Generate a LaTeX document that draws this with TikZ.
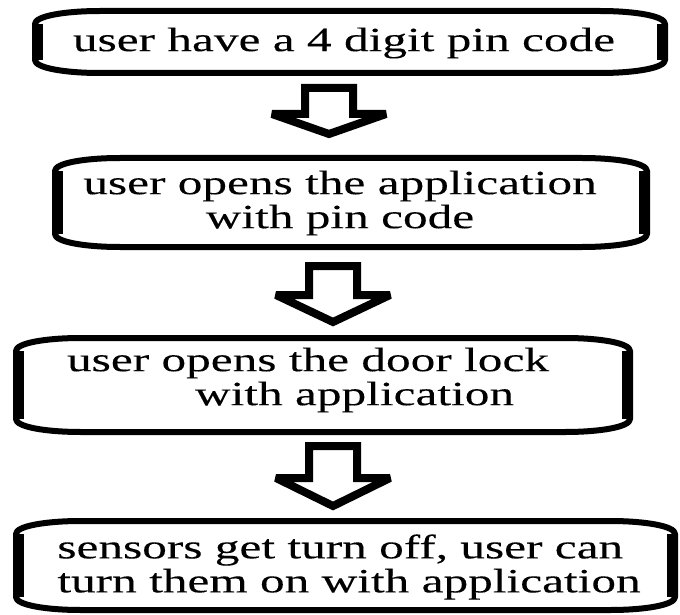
\documentclass[tikz,border=0pt]{standalone}
\usepackage{fontspec}
\setmainfont{Liberation Serif}[FakeStretch=1.45,FakeBold=0.15]
\tikzset{
  boxline/.style={line width=6pt, line join=round},
  sidebar/.style={line width=11pt},
  boxtext/.style={font=\fontsize{34}{34}\selectfont, inner sep=0pt},
  hollowarrow/.style={line width=8pt, line join=miter, miter limit=3, fill=white},
}
% x1 y1 x2 y2 (mid-line of the stroke)
\newcommand\roundbox[4]{%
  \draw[boxline] (#1,#2+13) .. controls (#1,#2+5) and (#1+30,#2) .. (#1+65,#2)
    -- (#3-65,#2) .. controls (#3-30,#2) and (#3,#2+5) .. (#3,#2+13)
    -- (#3,#4-13) .. controls (#3,#4-5) and (#3-30,#4) .. (#3-65,#4)
    -- (#1+65,#4) .. controls (#1+30,#4) and (#1,#4-5) .. (#1,#4-13) -- cycle;
  \draw[sidebar] (#1+2.5,#2+13) -- (#1+2.5,#4-13);
  \draw[sidebar] (#3-2.5,#2+13) -- (#3-2.5,#4-13);
}
% cx top shoulder tip
\newcommand\downarrowshape[4]{%
  \draw[hollowarrow] (#1-24,#2) -- (#1-24,#3) -- (#1-57,#3) -- (#1,#4)
    -- (#1+57,#3) -- (#1+24,#3) -- (#1+24,#2) -- cycle;
}
\begin{document}
\begin{tikzpicture}[x=1pt,y=-1pt]
  \useasboundingbox[fill=white] (0,0) rectangle (680,615);

  \roundbox{35}{11}{665}{73}
  \roundbox{55}{158}{647}{247}
  \roundbox{16}{338}{630}{432}
  \roundbox{16}{521}{675}{610}

  \node[boxtext, align=center] (b1) at (344,43) {user have a 4 digit pin code};
  \node[boxtext, align=center] (b2) at (340,203) {user opens the application\\with pin code};
  \node[boxtext, align=left] (b3) at (308,380) {user opens the door lock\\\hspace*{128pt}with application};
  \node[boxtext, align=left] (b4) at (349,567) {sensors get turn off, user can\\turn them on with application};

  \downarrowshape{329}{88}{114}{134}
  \downarrowshape{333}{266}{295}{322}
  \downarrowshape{333}{446}{478}{506}
\end{tikzpicture}
\end{document}
